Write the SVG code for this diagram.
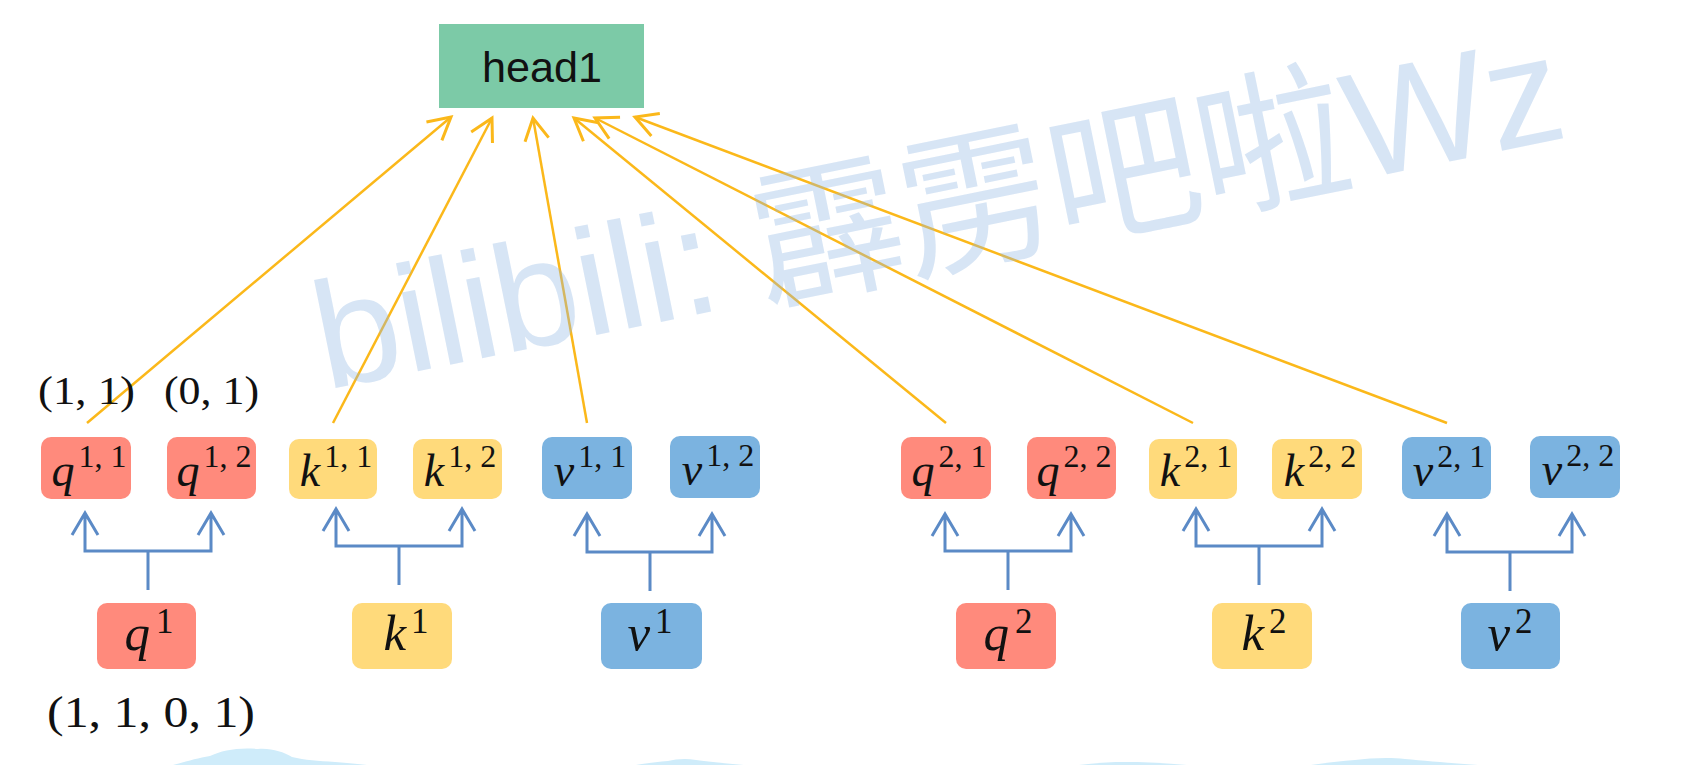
<svg xmlns="http://www.w3.org/2000/svg" width="1691" height="765" viewBox="0 0 1691 765">
<defs>
<style>
.red{fill:#FF8A7C}
.yel{fill:#FFDA7B}
.blu{fill:#7BB3E0}
.m{font-family:"Liberation Serif","DejaVu Serif",serif;fill:#111}
.it{font-style:italic}
.sub{font-size:46px;text-anchor:middle}
.bot{font-size:51px;text-anchor:middle}
.tup{font-size:32px}
.bup{font-size:35px}
.bl{fill:none;stroke:#5B8AC6;stroke-width:3}
.yl{fill:none;stroke:#FBB81A;stroke-width:2.5}
.cloud{fill:#CFECFA}
</style>
<marker id="ya" viewBox="-28 -15 32 30" refX="0" refY="0" markerWidth="32" markerHeight="30" markerUnits="userSpaceOnUse" orient="auto">
<path d="M-22,-12 L0,0 L-22,12" fill="none" stroke="#FBB81A" stroke-width="3"/>
</marker>
</defs>
<rect width="1691" height="765" fill="#FFFFFF"/>

<g id="clouds">
<path class="cloud" d="M173,765 C188,761 198,758 210,756 C222,750 240,747 258,749 C272,748 283,752 292,757 C305,760 318,761 335,762 C348,763 358,764 367,765 Z"/>
<path class="cloud" d="M636,765 C648,763 658,762 668,761 C676,759 686,758 696,760 C708,762 725,763 744,765 Z"/>
<path class="cloud" d="M1079,765 C1095,763 1110,762 1125,762 C1145,762 1165,763 1187,765 Z"/>
<path class="cloud" d="M1311,765 C1325,763 1340,761 1355,760 C1370,758 1390,757 1405,759 C1425,761 1450,763 1478,765 Z"/>
</g>

<g id="head1">
<rect x="439" y="24" width="205" height="84" fill="#7CCAA7"/>
<text x="542" y="82" font-family="'Liberation Sans','Open Sans',sans-serif" font-size="43" text-anchor="middle" fill="#111" textLength="120" lengthAdjust="spacingAndGlyphs">head1</text>
</g>

<g id="connectors">
<g id="head-links">
<line class="yl" x1="87" y1="423" x2="451" y2="117" marker-end="url(#ya)"/>
<line class="yl" x1="333" y1="423" x2="492" y2="118" marker-end="url(#ya)"/>
<line class="yl" x1="587" y1="423" x2="533" y2="118" marker-end="url(#ya)"/>
<line class="yl" x1="946" y1="423" x2="574" y2="118" marker-end="url(#ya)"/>
<line class="yl" x1="1193" y1="423" x2="595" y2="118" marker-end="url(#ya)"/>
<line class="yl" x1="1447" y1="423" x2="635" y2="117" marker-end="url(#ya)"/>
</g>
<g id="split-q1">
<path class="bl" d="M148,590 V551 M85,513 V551 H211 V513 M72,535 L85,513 L98,535 M198,535 L211,513 L224,535"/>
</g>
<g id="split-k1">
<path class="bl" d="M399,585 V546 M336,509 V546 H462 V509 M323,531 L336,509 L349,531 M449,531 L462,509 L475,531"/>
</g>
<g id="split-v1">
<path class="bl" d="M650,591 V552 M587,514 V552 H712 V514 M574,536 L587,514 L600,536 M699,536 L712,514 L725,536"/>
</g>
<g id="split-q2">
<path class="bl" d="M1008,590 V551 M945,514 V551 H1071 V514 M932,536 L945,514 L958,536 M1058,536 L1071,514 L1084,536"/>
</g>
<g id="split-k2">
<path class="bl" d="M1259,585 V546 M1196,509 V546 H1322 V509 M1183,531 L1196,509 L1209,531 M1309,531 L1322,509 L1335,531"/>
</g>
<g id="split-v2">
<path class="bl" d="M1510,591 V552 M1447,514 V552 H1572 V514 M1434,536 L1447,514 L1460,536 M1559,536 L1572,514 L1585,536"/>
</g>
</g>

<!-- top row -->
<g id="q11"><rect class="red" x="41" y="437" width="90" height="62" rx="10"/>
<text class="m sub" x="89" y="486"><tspan class="it">q</tspan><tspan class="tup" dx="4" dy="-19">1, 1</tspan></text></g>
<g id="q12"><rect class="red" x="167" y="437" width="89" height="62" rx="10"/>
<text class="m sub" x="214" y="486"><tspan class="it">q</tspan><tspan class="tup" dx="4" dy="-19">1, 2</tspan></text></g>
<g id="k11"><rect class="yel" x="289" y="439" width="88" height="60" rx="10"/>
<text class="m sub" x="336" y="486"><tspan class="it">k</tspan><tspan class="tup" dx="4" dy="-19">1, 1</tspan></text></g>
<g id="k12"><rect class="yel" x="413" y="439" width="89" height="60" rx="10"/>
<text class="m sub" x="460" y="486"><tspan class="it">k</tspan><tspan class="tup" dx="4" dy="-19">1, 2</tspan></text></g>
<g id="v11"><rect class="blu" x="542" y="437" width="90" height="62" rx="10"/>
<text class="m sub" x="590" y="486"><tspan class="it">v</tspan><tspan class="tup" dx="4" dy="-19">1, 1</tspan></text></g>
<g id="v12"><rect class="blu" x="670" y="436" width="90" height="62" rx="10"/>
<text class="m sub" x="718" y="485"><tspan class="it">v</tspan><tspan class="tup" dx="4" dy="-19">1, 2</tspan></text></g>
<g id="q21"><rect class="red" x="901" y="437" width="90" height="62" rx="10"/>
<text class="m sub" x="949" y="486"><tspan class="it">q</tspan><tspan class="tup" dx="4" dy="-19">2, 1</tspan></text></g>
<g id="q22"><rect class="red" x="1027" y="437" width="89" height="62" rx="10"/>
<text class="m sub" x="1074" y="486"><tspan class="it">q</tspan><tspan class="tup" dx="4" dy="-19">2, 2</tspan></text></g>
<g id="k21"><rect class="yel" x="1149" y="439" width="88" height="60" rx="10"/>
<text class="m sub" x="1196" y="486"><tspan class="it">k</tspan><tspan class="tup" dx="4" dy="-19">2, 1</tspan></text></g>
<g id="k22"><rect class="yel" x="1272" y="439" width="90" height="60" rx="10"/>
<text class="m sub" x="1320" y="486"><tspan class="it">k</tspan><tspan class="tup" dx="4" dy="-19">2, 2</tspan></text></g>
<g id="v21"><rect class="blu" x="1402" y="437" width="89" height="62" rx="10"/>
<text class="m sub" x="1449" y="486"><tspan class="it">v</tspan><tspan class="tup" dx="4" dy="-19">2, 1</tspan></text></g>
<g id="v22"><rect class="blu" x="1530" y="436" width="90" height="62" rx="10"/>
<text class="m sub" x="1578" y="485"><tspan class="it">v</tspan><tspan class="tup" dx="4" dy="-19">2, 2</tspan></text></g>

<!-- bottom row -->
<g id="q1"><rect class="red" x="97" y="603" width="99" height="66" rx="10"/>
<text class="m bot" x="149" y="650"><tspan class="it">q</tspan><tspan class="bup" dx="6" dy="-17">1</tspan></text></g>
<g id="k1"><rect class="yel" x="352" y="603" width="100" height="66" rx="10"/>
<text class="m bot" x="406" y="650"><tspan class="it">k</tspan><tspan class="bup" dx="5" dy="-17">1</tspan></text></g>
<g id="v1"><rect class="blu" x="601" y="603" width="101" height="66" rx="10"/>
<text class="m bot" x="650" y="650"><tspan class="it">v</tspan><tspan class="bup" dx="5" dy="-17">1</tspan></text></g>
<g id="q2"><rect class="red" x="956" y="603" width="100" height="66" rx="10"/>
<text class="m bot" x="1008" y="650"><tspan class="it">q</tspan><tspan class="bup" dx="6" dy="-17">2</tspan></text></g>
<g id="k2"><rect class="yel" x="1212" y="603" width="100" height="66" rx="10"/>
<text class="m bot" x="1264" y="650"><tspan class="it">k</tspan><tspan class="bup" dx="5" dy="-17">2</tspan></text></g>
<g id="v2"><rect class="blu" x="1461" y="603" width="99" height="66" rx="10"/>
<text class="m bot" x="1510" y="650"><tspan class="it">v</tspan><tspan class="bup" dx="5" dy="-17">2</tspan></text></g>

<g id="labels">
<text class="m" x="38" y="404" font-size="40" textLength="97" lengthAdjust="spacingAndGlyphs">(1, 1)</text>
<text class="m" x="164" y="404" font-size="40" textLength="95" lengthAdjust="spacingAndGlyphs">(0, 1)</text>
<text class="m" x="47" y="727" font-size="44" textLength="208" lengthAdjust="spacingAndGlyphs">(1, 1, 0, 1)</text>
</g>

<g id="watermark">
<text x="326" y="390" transform="rotate(-11.5 326 390)" font-family="'Liberation Sans','Noto Sans CJK SC',sans-serif" font-size="152" fill="#8FB8E3" fill-opacity="0.36" textLength="1270" lengthAdjust="spacing">bilibili: 霹雳吧啦Wz</text>
</g>
</svg>
